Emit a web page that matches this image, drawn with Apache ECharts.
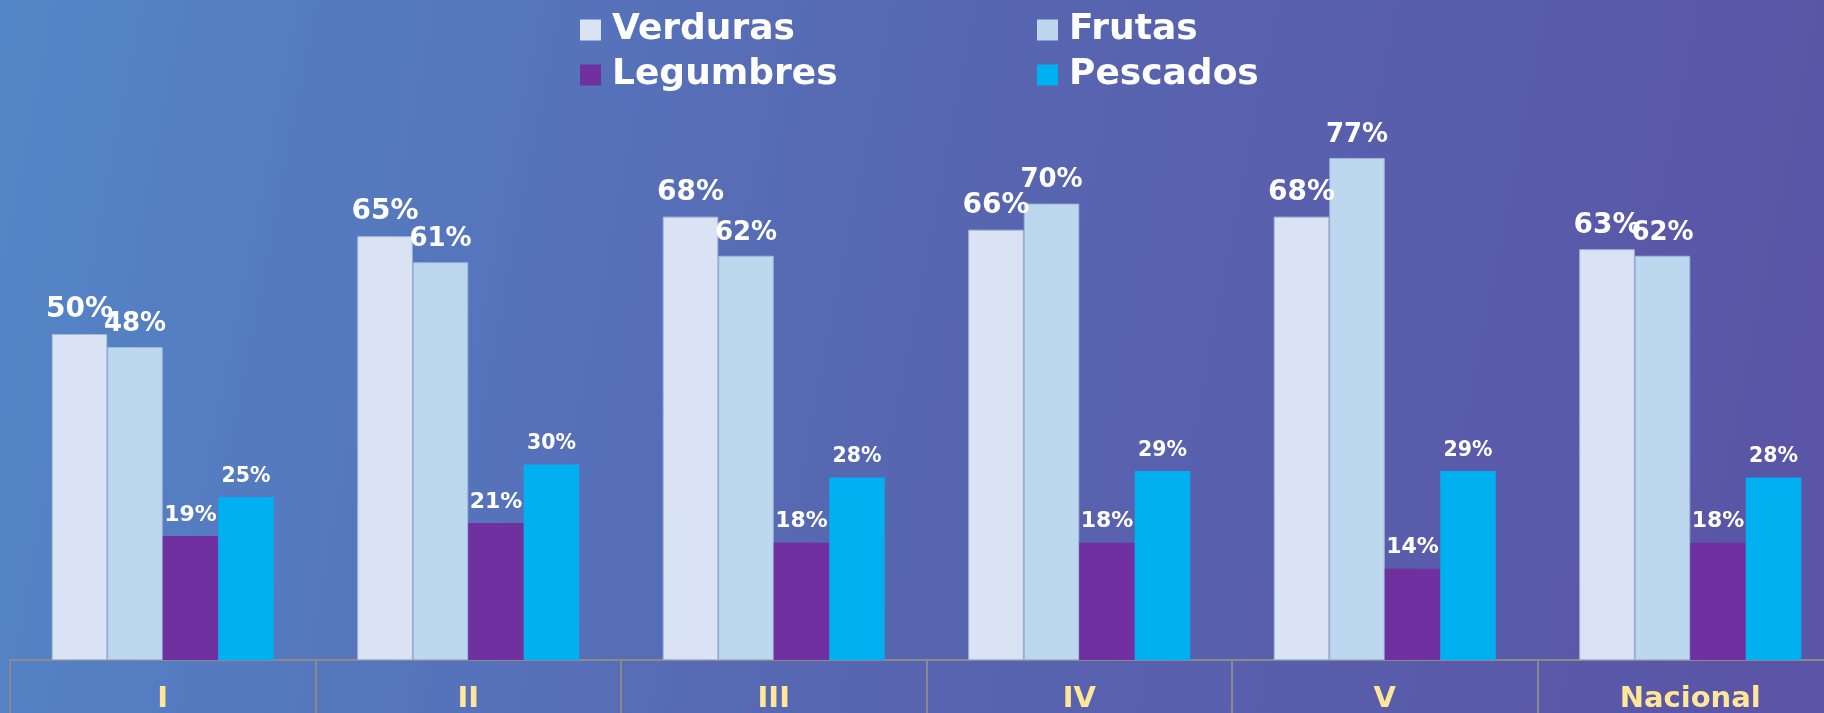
<!DOCTYPE html>
<html>
<head>
<meta charset="utf-8">
<script src="https://cdn.jsdelivr.net/npm/echarts@6/dist/echarts.min.js"></script>
<style>
  html, body { margin: 0; padding: 0; }
  #main { width: 1824px; height: 713px; }
</style>
</head>
<body>
<div id="main"></div>
<script>
  // categorias (regiones) y porcentajes por grupo de alimento
  var regiones = ['I', 'II', 'III', 'IV', 'V', 'Nacional'];
  var verduras = [50, 65, 68, 66, 68, 63];
  var frutas = [48, 61, 62, 70, 77, 62];
  var legumbres = [19, 21, 18, 18, 14, 18];
  var pescados = [25, 30, 28, 29, 29, 28];

  var fuente = '"DejaVu Sans", Verdana, sans-serif';

  function etiqueta(size) {
    return {
      show: true,
      position: 'top',
      distance: 10,
      formatter: '{c}%',
      color: '#fff',
      fontWeight: 'bold',
      fontSize: size,
      fontFamily: fuente
    }
  }

  var legendaBase = {
    orient: 'vertical',
    top: 7,
    itemGap: 9,
    itemWidth: 21,
    itemHeight: 21,
    icon: 'rect',
    itemStyle: {borderWidth: 0},
    textStyle: {
      color: '#fff',
      fontSize: 36,
      fontWeight: 'bold',
      fontFamily: fuente,
      padding: [0, 0, 0, 6]
    }
  };

  var option = {
    backgroundColor: new echarts.graphic.LinearGradient(0, 0, 1, 0.5, [
      {offset: 0, color: '#5386c8'},
      {offset: 0.5, color: '#5767b2'},
      {offset: 1, color: '#5a55a6'}
    ]),
    animation: false,
    legend: [
      Object.assign({}, legendaBase, {left: 575, data: ['Verduras', 'Legumbres']}),
      Object.assign({}, legendaBase, {left: 1032, data: ['Frutas', 'Pescados']})
    ],
    // la ultima categoria queda cortada por el borde derecho, como en la lamina
    grid: {
      left: 10,
      width: 1833,
      top: 8,
      bottom: 53,
      outerBoundsMode: 'none'
    },
    xAxis: {
      type: 'category',
      data: regiones,
      axisLine: {lineStyle: {color: '#8a8a8a', width: 2}},
      axisTick: {show: true, length: 53, lineStyle: {color: '#8a8a8a', width: 2}},
      axisLabel: {
        margin: 25,
        color: '#ffe699',
        fontSize: 29,
        fontWeight: 'bold',
        fontFamily: fuente
      }
    },
    yAxis: {
      type: 'value',
      min: 0,
      max: 100,
      show: false
    },
    series: [
      {
        name: 'Verduras',
        type: 'bar',
        barWidth: 55.5,
        barGap: '0%',
        itemStyle: {color: '#dae3f3', borderColor: '#a9b9d9', borderWidth: 1},
        label: etiqueta(28),
        data: verduras
      },
      {
        name: 'Frutas',
        type: 'bar',
        barWidth: 55.5,
        barGap: '0%',
        itemStyle: {color: '#bdd7ee', borderColor: '#9fb6d8', borderWidth: 1},
        label: etiqueta(26),
        data: frutas
      },
      {
        name: 'Legumbres',
        type: 'bar',
        barWidth: 55.5,
        barGap: '0%',
        itemStyle: {color: '#7030a0'},
        label: etiqueta(22),
        data: legumbres
      },
      {
        name: 'Pescados',
        type: 'bar',
        barWidth: 55.5,
        barGap: '0%',
        itemStyle: {color: '#00b0f0'},
        label: etiqueta(20.5),
        data: pescados
      }
    ]
  };

  var chart = echarts.init(document.getElementById('main'));
  chart.setOption(option);
</script>
</body>
</html>
